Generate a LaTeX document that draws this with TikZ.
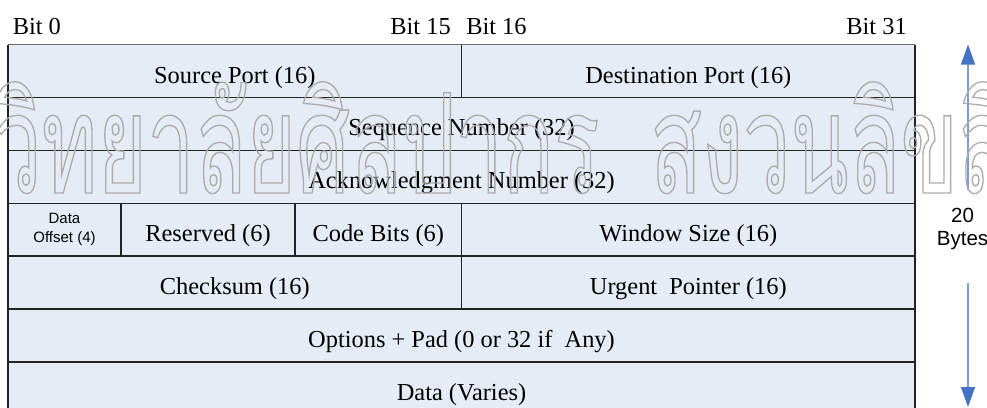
\documentclass[tikz,border=0pt]{standalone}
\usepackage{fontspec}
\setmainfont{Liberation Serif}
\newfontfamily\fieldsans{Liberation Sans}
\newfontfamily\thaiwm{Loma}[Script=Thai,FakeStretch=0.61]
\usetikzlibrary{arrows.meta}

\definecolor{cellfill}{RGB}{230,236,246}
\definecolor{rulecol}{RGB}{35,35,35}
\definecolor{toprulecol}{RGB}{110,110,110}
\definecolor{spanline}{RGB}{125,158,214}
\definecolor{spanhead}{RGB}{68,114,196}
\definecolor{wmgray}{RGB}{172,172,172}

% hollow (stroked only) lettering for the watermark
\newcommand\outlinetext[1]{\special{pdf:literal direct 1 Tr 1 w}#1\special{pdf:literal direct 0 Tr}}

\tikzset{
  rule/.style={draw=rulecol, line width=1pt},
  toprule/.style={draw=toprulecol, line width=1pt},
  field/.style={anchor=base, inner sep=0pt, font=\fontsize{18.3pt}{20pt}\selectfont},
  bitlbl/.style={inner sep=0pt, font=\fontsize{18.3pt}{20pt}\selectfont},
  smallfield/.style={inner sep=0pt, align=center, font=\fieldsans\fontsize{11.25pt}{14.6pt}\selectfont},
  sizelbl/.style={inner sep=0pt, align=center, font=\fieldsans\fontsize{15.4pt}{17pt}\selectfont},
  span/.style={draw=spanline, line width=0.8pt, -{Triangle[width=10.5pt,length=15pt,color=spanhead,fill=spanhead]}},
  watermark/.style={inner sep=0pt, text=wmgray, font=\thaiwm\fontsize{104pt}{104pt}\selectfont},
}

\begin{document}
\begin{tikzpicture}[x=0.75pt,y=-0.75pt]
\useasboundingbox (0,0) rectangle (987,407);
\clip (0,0) rectangle (987,407);

% header background
\fill[cellfill] (8,44.5) rectangle (915,420);

% horizontal rules between the 32-bit words
\foreach \yy in {97.4,150.3,203.2,256.1,309,361.9}
  \draw[rule] (8,\yy) -- (915,\yy);
\draw[toprule] (8,44.5) -- (915,44.5);
\draw[rule] (8,44.5) -- (8,420);
\draw[rule] (915,44.5) -- (915,420);

% field dividers
\draw[rule] (461.7,44.5) -- (461.7,97.4);
\draw[rule] (461.7,203.2) -- (461.7,309);
\draw[rule] (121,203.2) -- (121,256.1);
\draw[rule] (295,203.2) -- (295,256.1);

% bit numbering
\node[bitlbl, anchor=base west] (b0)  at (12.5,34.3) {Bit 0};
\node[bitlbl, anchor=base east] (b15) at (451,34.3)  {Bit 15};
\node[bitlbl, anchor=base west] (b16) at (466,34.3)  {Bit 16};
\node[bitlbl, anchor=base east] (b31) at (907,34.3)  {Bit 31};

% fields
\node[field] (srcport)  at (234.8,83)    {Source Port (16)};
\node[field] (dstport)  at (688.3,83)    {Destination Port (16)};
\node[field] (seqnum)   at (461.5,135.9) {Sequence Number (32)};
\node[field] (acknum)   at (461.5,188.8) {Acknowledgment Number (32)};
\node[smallfield] (offset) at (64.5,229.5) {Data\\Offset (4)};
\node[field] (reserved) at (208,241.7)   {Reserved (6)};
\node[field] (codebits) at (378.3,241.7) {Code Bits (6)};
\node[field] (window)   at (688.3,241.7) {Window Size (16)};
\node[field] (checksum) at (234.8,294.6) {Checksum (16)};
\node[field] (urgent)   at (688.3,294.6) {Urgent\ \ Pointer (16)};
\node[field] (options)  at (461.5,347.5) {Options + Pad (0 or 32 if\ \ Any)};
\node[field] (data)     at (461.5,400.4) {Data (Varies)};

% header size marker
\node[sizelbl] (bytes) at (962.5,229) {20\\Bytes};
\coordinate (upfrom) at (968,190);
\coordinate (uptip)  at (968,44.5);
\coordinate (dnfrom) at (968,283);
\coordinate (dntip)  at (968,407);
\draw[span] (upfrom) -- (uptip);
\draw[span] (dnfrom) -- (dntip);

% watermark
\node[watermark, anchor=base west] (wmA) at (-6,193)  {\outlinetext{วิทยาลัยศิลปากร}};
\node[watermark, anchor=base west] (wmB) at (650,193) {\outlinetext{สงวนลิขสิทธิ์}};
\end{tikzpicture}
\end{document}
